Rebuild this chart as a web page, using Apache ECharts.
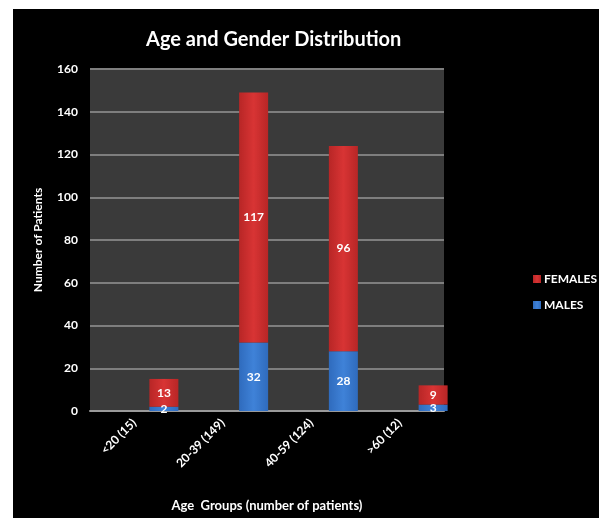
<!DOCTYPE html>
<html>
<head>
<meta charset="utf-8">
<script src="https://cdn.jsdelivr.net/npm/echarts@6/dist/echarts.min.js"></script>
<style>
  html, body { margin: 0; padding: 0; background: #fff; }
  #chart { position: absolute; left: 13px; top: 9px; width: 586px; height: 509px; }
</style>
</head>
<body>
<div id="chart"></div>
<script>
// chart data
var ageGroups = ['<20 (15)', '20-39 (149)', '40-59 (124)', '>60 (12)']
var females = [13, 117, 96, 9]
var males = [2, 32, 28, 3]
var yTicks = { min: 0, max: 160, interval: 20 }

var chart = echarts.init(document.getElementById('chart'))
var labelFont = 'Lato, "Open Sans", sans-serif'

var option = {
  backgroundColor: '#000',
  animation: false,
  title: {
    text: 'Age and Gender Distribution',
    left: 128,
    top: 16,
    textStyle: { color: '#fff', fontSize: 20, fontWeight: 'bold', fontFamily: labelFont }
  },
  legend: {
    orient: 'vertical',
    left: 515,
    top: 259,
    itemWidth: 8,
    itemHeight: 8,
    itemGap: 14,
    icon: 'rect',
    data: ['FEMALES', 'MALES'],
    textStyle: { color: '#fff', fontSize: 12, fontWeight: 'bold', fontFamily: labelFont, padding: [0, 0, 0, -2] }
  },
  grid: [
    // back wall of the chart, with axes and grid lines
    { left: 77, top: 60, width: 354, height: 342, show: true, backgroundColor: '#3a3a3a', borderWidth: 0 },
    // the bars sit a little to the right (3D look)
    { left: 106, top: 60, width: 359, height: 342 }
  ],
  xAxis: [
    {
      gridIndex: 0,
      type: 'category',
      data: ageGroups,
      name: 'Age  Groups (number of patients)',
      nameLocation: 'middle',
      nameGap: 88,
      nameTextStyle: { color: '#fff', fontSize: 13, fontWeight: 'bold', fontFamily: labelFont },
      axisLine: { lineStyle: { color: '#9a9a9a', width: 2 } },
      axisTick: { show: false },
      axisLabel: { rotate: 45, color: '#fff', fontSize: 12, fontWeight: 'bold', fontFamily: labelFont, margin: 10 }
    },
    {
      gridIndex: 1,
      type: 'category',
      data: ageGroups,
      show: false
    }
  ],
  yAxis: [
    {
      gridIndex: 0,
      type: 'value',
      min: yTicks.min,
      max: yTicks.max,
      interval: yTicks.interval,
      name: 'Number of Patients',
      nameLocation: 'middle',
      nameGap: 46,
      nameTextStyle: { color: '#fff', fontSize: 12, fontWeight: 'bold', fontFamily: labelFont },
      axisLine: { show: false },
      axisTick: { show: false },
      axisLabel: { color: '#fff', fontSize: 12, fontWeight: 'bold', fontFamily: labelFont, margin: 12 },
      splitLine: { lineStyle: { color: '#7e7e7e', width: 2 } }
    },
    {
      gridIndex: 1,
      type: 'value',
      min: yTicks.min,
      max: yTicks.max,
      interval: yTicks.interval,
      show: false,
      splitLine: { show: false }
    }
  ],
  series: [
    {
      name: 'MALES',
      type: 'bar',
      stack: 'total',
      xAxisIndex: 1,
      yAxisIndex: 1,
      barWidth: 29,
      data: males,
      itemStyle: {
        color: new echarts.graphic.LinearGradient(0, 0, 1, 0, [
          { offset: 0, color: '#2f6bbd' },
          { offset: 0.5, color: '#3f82d8' },
          { offset: 1, color: '#2f6bbd' }
        ])
      },
      label: { show: true, position: 'inside', color: '#fff', fontSize: 12, fontWeight: 'bold', fontFamily: labelFont }
    },
    {
      name: 'FEMALES',
      type: 'bar',
      stack: 'total',
      xAxisIndex: 1,
      yAxisIndex: 1,
      barWidth: 29,
      data: females,
      itemStyle: {
        color: new echarts.graphic.LinearGradient(0, 0, 1, 0, [
          { offset: 0, color: '#b82626' },
          { offset: 0.5, color: '#d83434' },
          { offset: 1, color: '#b82626' }
        ])
      },
      label: { show: true, position: 'inside', color: '#fff', fontSize: 12, fontWeight: 'bold', fontFamily: labelFont }
    }
  ]
}

chart.setOption(option)
</script>
</body>
</html>
